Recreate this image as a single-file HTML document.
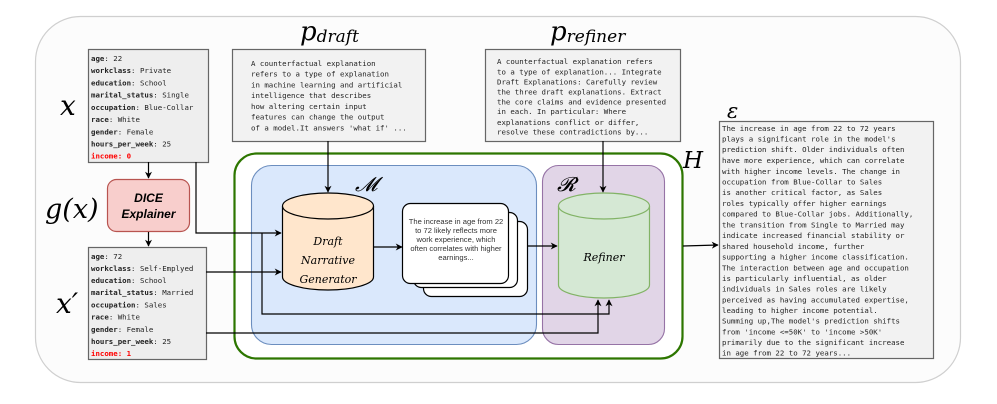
<!DOCTYPE html>
<html><head><meta charset="utf-8"><style>
html,body{margin:0;padding:0;background:#fff;}
svg{display:block;}
.m{font-family:"DejaVu Sans Mono","Liberation Mono",monospace;font-size:7.4px;fill:#222;}
.b{font-weight:bold;}
</style></head><body>
<svg width="997" height="404" viewBox="0 0 997 404" xmlns="http://www.w3.org/2000/svg">
<defs>
<marker id="a" viewBox="0 0 10 10" refX="9" refY="5" markerWidth="7" markerHeight="7" orient="auto-start-reverse" markerUnits="userSpaceOnUse">
<path d="M0,0 L10,5 L0,10 L3,5 z" fill="#000"/></marker>
</defs>
<rect x="35.5" y="16.5" width="925" height="366" rx="45" fill="#fcfcfc" stroke="#cfcfcf" stroke-width="1.2"/>

<rect x="88.5" y="49.5" width="120" height="113" fill="#eeeeee" stroke="#666" stroke-width="1.2"/>
<g class="m">
<text x="91" y="61"><tspan class="b">age</tspan>: 22</text>
<text x="91" y="73"><tspan class="b">workclass</tspan>: Private</text>
<text x="91" y="85.5"><tspan class="b">education</tspan>: School</text>
<text x="91" y="97.5"><tspan class="b">marital_status</tspan>: Single</text>
<text x="91" y="110"><tspan class="b">occupation</tspan>: Blue-Collar</text>
<text x="91" y="122"><tspan class="b">race</tspan>: White</text>
<text x="91" y="134.5"><tspan class="b">gender</tspan>: Female</text>
<text x="91" y="146.5"><tspan class="b">hours_per_week</tspan>: 25</text>
<text x="91" y="158.5" class="b" style="fill:#f00">income: 0</text>
</g>
<rect x="88.5" y="247.5" width="118" height="112" fill="#eeeeee" stroke="#666" stroke-width="1.2"/>
<g class="m">
<text x="91" y="259"><tspan class="b">age</tspan>: 72</text>
<text x="91" y="271"><tspan class="b">workclass</tspan>: Self-Emplyed</text>
<text x="91" y="283"><tspan class="b">education</tspan>: School</text>
<text x="91" y="295"><tspan class="b">marital_status</tspan>: Married</text>
<text x="91" y="307.5"><tspan class="b">occupation</tspan>: Sales</text>
<text x="91" y="319.5"><tspan class="b">race</tspan>: White</text>
<text x="91" y="332"><tspan class="b">gender</tspan>: Female</text>
<text x="91" y="344"><tspan class="b">hours_per_week</tspan>: 25</text>
<text x="91" y="356" class="b" style="fill:#f00">income: 1</text>
</g>
<g font-family="DejaVu Serif, Liberation Serif, serif" font-style="italic" fill="#000">
<text x="60" y="115" font-size="28">x</text>
<text x="45" y="218" font-size="27">g(x)</text>
<text x="56" y="313" font-size="28">x′</text>
</g>

<rect x="107.5" y="179.5" width="82" height="52" rx="9" fill="#f8cecc" stroke="#b85450" stroke-width="1.2"/>
<text x="148.5" y="202" text-anchor="middle" font-family="Liberation Sans,sans-serif" font-size="12" font-weight="bold" font-style="italic">DICE</text>
<text x="148.5" y="218" text-anchor="middle" font-family="Liberation Sans,sans-serif" font-size="12" font-weight="bold" font-style="italic">Explainer</text>
<line x1="148.5" y1="162" x2="148.5" y2="178" stroke="#000" stroke-width="1.2" marker-end="url(#a)"/>
<line x1="148.5" y1="232" x2="148.5" y2="246" stroke="#000" stroke-width="1.2" marker-end="url(#a)"/>

<rect x="232.5" y="49.5" width="193" height="92" fill="#f2f2f2" stroke="#666" stroke-width="1.2"/>
<g class="m">
<text x="251" y="66">A counterfactual explanation</text>
<text x="251" y="76.5">refers to a type of explanation</text>
<text x="251" y="87.5">in machine learning and artificial</text>
<text x="251" y="98">intelligence that describes</text>
<text x="251" y="109">how altering certain input</text>
<text x="251" y="119.5">features can change the output</text>
<text x="251" y="130.5">of a model.It answers 'what if' ...</text>
</g>
<rect x="485.5" y="49.5" width="195" height="92" fill="#f2f2f2" stroke="#666" stroke-width="1.2"/>
<g class="m">
<text x="497" y="64">A counterfactual explanation refers</text>
<text x="497" y="74.5">to a type of explanation... Integrate</text>
<text x="497" y="84.5">Draft Explanations: Carefully review</text>
<text x="497" y="94.5">the three draft explanations. Extract</text>
<text x="497" y="104.5">the core claims and evidence presented</text>
<text x="497" y="114">in each. In particular: Where</text>
<text x="497" y="125">explanations conflict or differ,</text>
<text x="497" y="134.5">resolve these contradictions by...</text>
</g>
<g font-family="DejaVu Serif, Liberation Serif, serif" font-style="italic" fill="#000">
<text x="300" y="40" font-size="26">p<tspan font-size="17" dy="2">draft</tspan></text>
<text x="550" y="40" font-size="26">p<tspan font-size="17" dy="2">refiner</tspan></text>
</g>

<rect x="234.5" y="153.5" width="448" height="205" rx="22" fill="#fff" stroke="#2d7600" stroke-width="2.2"/>
<text x="683" y="168" font-family="DejaVu Serif, Liberation Serif, serif" font-style="italic" font-size="23">H</text>
<rect x="251.5" y="165.5" width="285" height="179" rx="20" fill="#dae8fc" stroke="#6c8ebf" stroke-width="1.1"/>
<rect x="542.5" y="165.5" width="122" height="179" rx="16" fill="#e1d5e7" stroke="#9673a6" stroke-width="1.1"/>
<text x="355" y="191" font-size="20" font-family="DejaVu Serif, serif" font-style="italic">𝓜</text>
<text x="557" y="191" font-size="20" font-family="DejaVu Serif, serif" font-style="italic">𝓡</text>

<path d="M282.5,206 L282.5,277 A45.5,13 0 0 0 373.5,277 L373.5,206" fill="#ffe6cc" stroke="#000" stroke-width="1.2"/>
<ellipse cx="328" cy="206" rx="45.5" ry="13" fill="#ffe6cc" stroke="#000" stroke-width="1.2"/>
<g font-family="DejaVu Serif, Liberation Serif, serif" font-style="italic" font-size="11" text-anchor="middle" fill="#000">
<text x="328" y="245">Draft</text>
<text x="328" y="264">Narrative</text>
<text x="328" y="283">Generator</text>
</g>

<rect x="423.5" y="221.5" width="104" height="75" rx="8" fill="#fff" stroke="#000" stroke-width="1.2"/>
<rect x="413.5" y="212.5" width="104" height="75" rx="8" fill="#fff" stroke="#000" stroke-width="1.2"/>
<rect x="402.5" y="203.5" width="106" height="80" rx="8" fill="#fff" stroke="#000" stroke-width="1.2"/>
<g font-family="Liberation Sans,sans-serif" font-size="7.6" fill="#333" text-anchor="middle">
<text x="456" y="224">The increase in age from 22</text>
<text x="456" y="233">to 72 likely reflects more</text>
<text x="456" y="242">work experience, which</text>
<text x="456" y="251">often correlates with higher</text>
<text x="456" y="260">earnings...</text>
</g>

<path d="M558.5,206 L558.5,285 A45.5,13 0 0 0 649.5,285 L649.5,206" fill="#d5e8d4" stroke="#82b366" stroke-width="1.2"/>
<ellipse cx="604" cy="206" rx="45.5" ry="13" fill="#d5e8d4" stroke="#82b366" stroke-width="1.2"/>
<text x="604" y="261" text-anchor="middle" font-family="DejaVu Serif, Liberation Serif, serif" font-style="italic" font-size="11">Refiner</text>

<g stroke="#000" stroke-width="1.2" fill="none">
<line x1="328" y1="141" x2="328" y2="192" marker-end="url(#a)"/>
<line x1="603" y1="141" x2="603" y2="192" marker-end="url(#a)"/>
<polyline points="196,162 196,233 281,233" marker-end="url(#a)"/>
<polyline points="262,233 262,314 609,314 609,300" marker-end="url(#a)"/>
<line x1="206" y1="272" x2="281" y2="272" marker-end="url(#a)"/>
<polyline points="206,333 598,333 598,300" marker-end="url(#a)"/>
<line x1="373" y1="247" x2="402" y2="247" marker-end="url(#a)"/>
<line x1="527" y1="246" x2="557" y2="246" marker-end="url(#a)"/>
<line x1="683" y1="246" x2="718" y2="245" marker-end="url(#a)"/>
</g>

<text x="727" y="118" font-family="DejaVu Serif, Liberation Serif, serif" font-style="italic" font-size="21">ε</text>
<rect x="719.5" y="121.5" width="214" height="237" fill="#f2f2f2" stroke="#666" stroke-width="1.2"/>
<g class="m">
<text x="722" y="131">The increase in age from 22 to 72 years</text>
<text x="722" y="141.5">plays a significant role in the model's</text>
<text x="722" y="152">prediction shift. Older individuals often</text>
<text x="722" y="163">have more experience, which can correlate</text>
<text x="722" y="174">with higher income levels. The change in</text>
<text x="722" y="184.5">occupation from Blue-Collar to Sales</text>
<text x="722" y="195">is another critical factor, as Sales</text>
<text x="722" y="206">roles typically offer higher earnings</text>
<text x="722" y="216.5">compared to Blue-Collar jobs. Additionally,</text>
<text x="722" y="227.5">the transition from Single to Married may</text>
<text x="722" y="238">indicate increased financial stability or</text>
<text x="722" y="249">shared household income, further</text>
<text x="722" y="259.5">supporting a higher income classification.</text>
<text x="722" y="270.5">The interaction between age and occupation</text>
<text x="722" y="281">is particularly influential, as older</text>
<text x="722" y="291.5">individuals in Sales roles are likely</text>
<text x="722" y="302.5">perceived as having accumulated expertise,</text>
<text x="722" y="313">leading to higher income potential.</text>
<text x="722" y="323.5">Summing up,The model's prediction shifts</text>
<text x="722" y="334.5">from 'income &lt;=50K' to 'income &gt;50K'</text>
<text x="722" y="345">primarily due to the significant increase</text>
<text x="722" y="355.5">in age from 22 to 72 years...</text>
</g>
</svg>
</body></html>
